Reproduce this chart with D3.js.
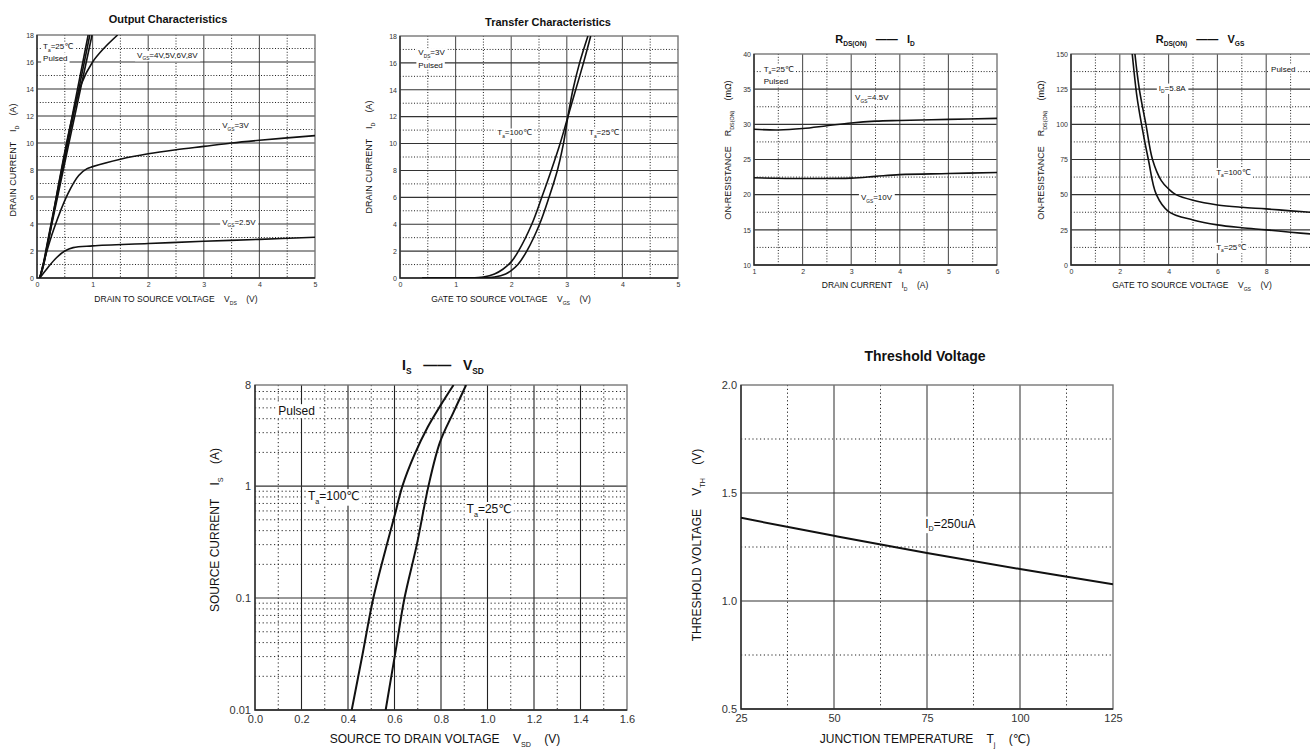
<!DOCTYPE html>
<html>
<head>
<meta charset="utf-8">
<script src="https://cdn.jsdelivr.net/npm/d3@7/dist/d3.min.js"></script>
<style>
body { margin: 0; background: #fff; }
text { font-family: "Liberation Sans", Arial, "DejaVu Sans", sans-serif; fill: #111; white-space: pre; }
</style>
</head>
<body>
<script>
// ---- Output characteristics (VDS, ID)
var outVgs8 = [[0.05, 0], [0.12, 1.2], [0.2, 2.9], [0.92, 18]];
var outVgs6 = [[0.05, 0], [0.12, 1.1], [0.2, 2.8], [0.95, 18]];
var outVgs5 = [[0.05, 0], [0.12, 1.0], [0.2, 2.7], [0.99, 18]];
var outVgs4 = [[0.05, 0], [0.12, 1.0], [0.2, 2.6], [0.4, 7.2], [0.6, 11.3], [0.8, 14.4], [1.0, 16.0], [1.2, 17.0], [1.45, 18]];
var outVgs3 = [[0.05, 0], [0.15, 1.6], [0.3, 3.6], [0.55, 6.2], [0.75, 7.6], [0.9, 8.1], [1.0, 8.25], [1.5, 8.8], [2.0, 9.2], [2.5, 9.5], [3.0, 9.75], [3.5, 10.0], [4.0, 10.2], [5.0, 10.55]];
var outVgs25 = [[0.05, 0], [0.2, 0.8], [0.35, 1.5], [0.5, 2.0], [0.65, 2.25], [1.0, 2.38], [2.0, 2.55], [3.0, 2.72], [4.0, 2.86], [5.0, 3.02]];

// ---- Transfer characteristics (VGS, ID)
var trans100 = [[0.4, 0], [1.2, 0.01], [1.5, 0.08], [1.7, 0.3], [1.85, 0.65], [2.0, 1.2], [2.13, 2], [2.37, 4], [2.55, 6], [2.72, 8], [2.88, 10], [3.02, 12], [3.16, 14], [3.3, 16], [3.43, 18]];
var trans25 = [[0.4, 0], [1.4, 0.01], [1.7, 0.08], [1.9, 0.3], [2.0, 0.55], [2.12, 1.0], [2.28, 2], [2.51, 4], [2.68, 6], [2.83, 8], [2.94, 10], [3.02, 12], [3.11, 14], [3.23, 16], [3.38, 18]];

// ---- RDS(ON) vs ID (ID, mOhm)
var rdsId45 = [[1, 29.3], [1.5, 29.2], [2, 29.4], [2.5, 29.8], [3, 30.2], [3.5, 30.45], [4, 30.55], [5, 30.7], [6, 30.85]];
var rdsId10 = [[1, 22.4], [2, 22.3], [3, 22.35], [3.5, 22.6], [4, 22.85], [5, 23.0], [6, 23.15]];

// ---- RDS(ON) vs VGS (VGS, mOhm)
var rdsVgs25 = [[2.51, 150], [2.7, 120], [2.89, 100], [3.17, 75], [3.5, 50], [4, 38], [5, 32], [6, 28.5], [7, 26.5], [8, 25], [9, 23.3], [10, 21.8]];
var rdsVgs100 = [[2.62, 150], [2.8, 125], [3.07, 100], [3.34, 75], [3.7, 60], [4, 54], [4.3, 50], [5, 46], [6, 42.7], [7, 41], [8, 39.9], [9, 38.5], [10, 37.3]];

// ---- IS vs VSD (VSD, IS)
var is100 = [[0.416, 0.01], [0.462, 0.031], [0.509, 0.1], [0.567, 0.3], [0.603, 0.57], [0.634, 1], [0.685, 1.89], [0.743, 3.37], [0.798, 5.26], [0.854, 8]];
var is25 = [[0.562, 0.01], [0.609, 0.038], [0.643, 0.1], [0.696, 0.3], [0.746, 1], [0.796, 2.48], [0.854, 4.58], [0.908, 8]];

// ---- Threshold voltage (Tj, VTH)
var vth = [[25, 1.385], [50, 1.302], [75, 1.222], [100, 1.148], [125, 1.078]];

// ---- tick values
var ticks0to5 = [0, 1, 2, 3, 4, 5];
var ticks0to18 = [0, 2, 4, 6, 8, 10, 12, 14, 16, 18];
var ticksId = [1, 2, 3, 4, 5, 6];
var ticksRdsId = [10, 15, 20, 25, 30, 35, 40];
var ticksVgs = [0, 2, 4, 6, 8];
var ticksRdsVgs = [0, 25, 50, 75, 100, 125, 150];
var ticksVsd = [0, 0.2, 0.4, 0.6, 0.8, 1.0, 1.2, 1.4, 1.6];
var ticksIs = [0.01, 0.1, 1, 8];
var ticksTj = [25, 50, 75, 100, 125];
var ticksVth = [0.5, 1.0, 1.5, 2.0];

var svg = d3.select("body").append("svg")
	.attr("width", 1310)
	.attr("height", 749);

// text with V_{GS} style subscripts
function rich(g, str, x, y, size, anchor, rotate, weight) {
	var t = g.append("text")
		.attr("x", x).attr("y", y)
		.attr("text-anchor", anchor || "start")
		.style("font-size", size + "px")
		.style("font-weight", weight || "normal");
	if (rotate) t.attr("transform", "rotate(-90," + x + "," + y + ")");
	var shift = size * 0.3, inSub = false;
	str.split(/(_\{[^}]*\})/).forEach(function(p) {
		if (!p) return;
		if (p.charAt(0) == "_") {
			t.append("tspan").text(p.slice(2, -1))
				.attr("dy", shift)
				.style("font-size", (size * 0.6) + "px");
			inSub = true;
		} else {
			var s = t.append("tspan").text(p);
			if (inSub) s.attr("dy", -shift);
			inSub = false;
		}
	});
	return t;
}

function Panel(cfg) {
	this.cfg = cfg;
	this.counter = Panel.counter++;
	this.x = (cfg.xLog ? d3.scaleLog() : d3.scaleLinear()).domain(cfg.xDomain).range([cfg.left, cfg.right]);
	this.y = (cfg.yLog ? d3.scaleLog() : d3.scaleLinear()).domain(cfg.yDomain).range([cfg.bottom, cfg.top]);
	this.g = svg.append("g");
	this.g.append("clipPath")
		.attr("id", "clip" + this.counter)
		.append("rect")
		.attr("x", cfg.left).attr("y", cfg.top)
		.attr("width", cfg.right - cfg.left).attr("height", cfg.bottom - cfg.top);
	this.gridGroup = this.g.append("g");
	this.lineGroup = this.g.append("g").attr("clip-path", "url(#clip" + this.counter + ")");
	this.noteGroup = this.g.append("g");
}
Panel.counter = 0;

Panel.prototype.grid = function() {
	var c = this.cfg, x = this.x, y = this.y, g = this.gridGroup;
	var dash = c.big ? "1.2,2.6" : "1,1.8";
	g.selectAll(".xmin").data(c.xMinor).enter().append("line")
		.attr("x1", x).attr("x2", x).attr("y1", c.top).attr("y2", c.bottom)
		.attr("stroke", "#222").attr("stroke-width", 1).attr("stroke-dasharray", dash);
	g.selectAll(".ymin").data(c.yMinor).enter().append("line")
		.attr("y1", y).attr("y2", y).attr("x1", c.left).attr("x2", c.right)
		.attr("stroke", "#222").attr("stroke-width", 1).attr("stroke-dasharray", dash);
	g.selectAll(".xmaj").data(c.xMajor).enter().append("line")
		.attr("x1", x).attr("x2", x).attr("y1", c.top).attr("y2", c.bottom)
		.attr("stroke", c.xMajorColor || "#555").attr("stroke-width", c.xMajorWidth || 1.1);
	g.selectAll(".ymaj").data(c.yMajor).enter().append("line")
		.attr("y1", y).attr("y2", y).attr("x1", c.left).attr("x2", c.right)
		.attr("stroke", "#333").attr("stroke-width", 1.1);
	g.append("rect")
		.attr("x", c.left).attr("y", c.top)
		.attr("width", c.right - c.left).attr("height", c.bottom - c.top)
		.attr("fill", "none").attr("stroke", "#777").attr("stroke-width", 1.4);
	g.append("path")
		.attr("d", "M" + c.left + "," + c.top + "V" + c.bottom + "H" + c.right)
		.attr("fill", "none").attr("stroke", "#222").attr("stroke-width", 1.3);
};

Panel.prototype.axes = function() {
	var c = this.cfg, fs = c.big ? 11 : 7;
	var ax = this.g.append("g")
		.attr("transform", "translate(0," + c.bottom + ")")
		.call(d3.axisBottom(this.x).tickValues(c.xTicks).tickSize(0).tickPadding(c.big ? 5 : 4).tickFormat(c.xFmt || d3.format("d")));
	var ay = this.g.append("g")
		.attr("transform", "translate(" + c.left + ",0)")
		.call(d3.axisLeft(this.y).tickValues(c.yTicks).tickSize(0).tickPadding(c.big ? 4 : 3).tickFormat(c.yFmt || d3.format("d")));
	[ax, ay].forEach(function(a) {
		a.select(".domain").remove();
		a.selectAll("text").style("font-size", fs + "px").style("fill", "#333");
	});
	var ls = c.big ? 12 : 8.5;
	rich(this.g, c.xLabel, c.xLabelPos[0], c.xLabelPos[1], ls, "middle");
	rich(this.g, c.yLabel, c.yLabelPos[0], c.yLabelPos[1], c.big ? 12 : 9, "middle", true);
	rich(this.g, c.title, c.titlePos[0], c.titlePos[1], c.big ? 14 : 11, "middle", false, "bold");
};

Panel.prototype.curve = function(data) {
	var x = this.x, y = this.y;
	var line = d3.line()
		.x(function(d) { return x(d[0]); })
		.y(function(d) { return y(d[1]); })
		.curve(d3.curveCatmullRom.alpha(0.5));
	this.lineGroup.append("path")
		.datum(data)
		.attr("d", line)
		.attr("fill", "none")
		.attr("stroke", "#111")
		.attr("stroke-width", this.cfg.big ? 2 : 1.6);
};

Panel.prototype.note = function(str, vx, vy) {
	var size = this.cfg.big ? 12 : 8;
	var t = rich(this.noteGroup, str, this.x(vx), this.y(vy), size, "start");
	var b = t.node().getBBox();
	this.noteGroup.insert("rect", function() { return t.node(); })
		.attr("x", b.x - 2).attr("y", b.y).attr("width", b.width + 4).attr("height", b.height)
		.attr("fill", "#fff");
};

// ---- panels
var p1 = new Panel({
	left: 37, right: 315, top: 35, bottom: 278,
	xDomain: [0, 5], yDomain: [0, 18],
	xMajor: [1, 2, 3, 4], xMinor: [0.5, 1.5, 2.5, 3.5, 4.5],
	yMajor: [2, 4, 6, 8, 10, 12, 14, 16], yMinor: [1, 3, 5, 7, 9, 11, 13, 15, 17],
	xTicks: ticks0to5, yTicks: ticks0to18,
	xLabel: "DRAIN TO SOURCE VOLTAGE    V_{DS}    (V)", xLabelPos: [176, 302],
	yLabel: "DRAIN CURRENT    I_{D}    (A)", yLabelPos: [16, 160],
	title: "Output Characteristics", titlePos: [168, 23]
});
p1.grid(); p1.axes();
[outVgs8, outVgs6, outVgs5, outVgs4, outVgs3, outVgs25].forEach(function(s) { p1.curve(s); });
p1.note("T_{a}=25℃", 0.11, 16.95);
p1.note("Pulsed", 0.11, 16.05);
p1.note("V_{GS}=4V,5V,6V,8V", 1.8, 16.3);
p1.note("V_{GS}=3V", 3.33, 11.1);
p1.note("V_{GS}=2.5V", 3.33, 3.95);

var p2 = new Panel({
	left: 400, right: 678, top: 36, bottom: 278,
	xDomain: [0, 5], yDomain: [0, 18],
	xMajor: [1, 2, 3, 4], xMinor: [0.5, 1.5, 2.5, 3.5, 4.5],
	yMajor: [2, 4, 6, 8, 10, 12, 14, 16], yMinor: [1, 3, 5, 7, 9, 11, 13, 15, 17],
	xTicks: ticks0to5, yTicks: ticks0to18,
	xLabel: "GATE TO SOURCE VOLTAGE    V_{GS}    (V)", xLabelPos: [511, 302],
	yLabel: "DRAIN CURRENT    I_{D}    (A)", yLabelPos: [372, 157],
	title: "Transfer Characteristics", titlePos: [548, 26]
});
p2.grid(); p2.axes();
p2.curve(trans100); p2.curve(trans25);
p2.note("V_{DS}=3V", 0.33, 16.55);
p2.note("Pulsed", 0.33, 15.65);
p2.note("T_{a}=100℃", 1.75, 10.6);
p2.note("T_{a}=25℃", 3.4, 10.6);

var p3 = new Panel({
	left: 754, right: 997, top: 54, bottom: 265,
	xDomain: [1, 6], yDomain: [10, 40],
	xMajor: [2, 3, 4, 5], xMinor: [1.5, 2.5, 3.5, 4.5, 5.5],
	yMajor: [15, 20, 25, 30, 35], yMinor: [12.5, 17.5, 22.5, 27.5, 32.5, 37.5],
	xTicks: ticksId, yTicks: ticksRdsId,
	xLabel: "DRAIN CURRENT    I_{D}    (A)", xLabelPos: [875, 288],
	yLabel: "ON-RESISTANCE    R_{DS(ON)}    (mΩ)", yLabelPos: [731, 150],
	title: "R_{DS(ON)}   ——   I_{D}", titlePos: [875, 43]
});
p3.grid(); p3.axes();
p3.curve(rdsId45); p3.curve(rdsId10);
p3.note("T_{a}=25℃", 1.2, 37.5);
p3.note("Pulsed", 1.2, 35.8);
p3.note("V_{GS}=4.5V", 3.08, 33.4);
p3.note("V_{GS}=10V", 3.2, 19.2);

var p4 = new Panel({
	left: 1071, right: 1315, top: 54, bottom: 265,
	xDomain: [0, 10], yDomain: [0, 150],
	xMajor: [2, 4, 6, 8], xMinor: [1, 3, 5, 7, 9],
	yMajor: [25, 50, 75, 100, 125], yMinor: [12.5, 37.5, 62.5, 87.5, 112.5, 137.5],
	xTicks: ticksVgs, yTicks: ticksRdsVgs,
	xLabel: "GATE TO SOURCE VOLTAGE    V_{GS}    (V)", xLabelPos: [1192, 288],
	yLabel: "ON-RESISTANCE    R_{DS(ON)}    (mΩ)", yLabelPos: [1044, 150],
	title: "R_{DS(ON)}   ——   V_{GS}", titlePos: [1200, 43]
});
p4.grid(); p4.axes();
p4.curve(rdsVgs25); p4.curve(rdsVgs100);
p4.note("I_{D}=5.8A", 3.6, 124);
p4.note("Pulsed", 8.2, 137.5);
p4.note("T_{a}=100℃", 5.95, 64);
p4.note("T_{a}=25℃", 5.95, 10.8);

var p5 = new Panel({
	big: true,
	left: 255, right: 627, top: 385, bottom: 710,
	xDomain: [0, 1.6], yDomain: [0.01, 8], yLog: true,
	xMajor: [0.2, 0.4, 0.6, 0.8, 1.0, 1.2, 1.4], xMinor: [0.1, 0.3, 0.5, 0.7, 0.9, 1.1, 1.3, 1.5],
	xMajorColor: "#222",
	yMajor: [0.1, 1],
	yMinor: [0.02, 0.03, 0.04, 0.05, 0.06, 0.07, 0.08, 0.09, 0.2, 0.3, 0.4, 0.5, 0.6, 0.7, 0.8, 0.9, 2, 3, 4, 5, 6, 7],
	xTicks: ticksVsd, yTicks: ticksIs,
	xFmt: d3.format(".1f"), yFmt: function(d) { return String(d); },
	xLabel: "SOURCE TO DRAIN VOLTAGE    V_{SD}    (V)", xLabelPos: [445, 743],
	yLabel: "SOURCE CURRENT    I_{S}    (A)", yLabelPos: [219, 530],
	title: "I_{S}   ——   V_{SD}", titlePos: [443, 370]
});
p5.grid(); p5.axes();
p5.curve(is100); p5.curve(is25);
p5.note("Pulsed", 0.1, 4.3);
p5.note("T_{a}=100℃", 0.228, 0.75);
p5.note("T_{a}=25℃", 0.91, 0.575);

var p6 = new Panel({
	big: true,
	left: 741, right: 1113, top: 385, bottom: 709,
	xDomain: [25, 125], yDomain: [0.5, 2.0],
	xMajor: [50, 75, 100], xMinor: [37.5, 62.5, 87.5, 112.5],
	xMajorColor: "#8a8a8a", xMajorWidth: 1.8,
	yMajor: [1.0, 1.5], yMinor: [0.75, 1.25, 1.75],
	xTicks: ticksTj, yTicks: ticksVth,
	xFmt: d3.format("d"), yFmt: d3.format(".1f"),
	xLabel: "JUNCTION TEMPERATURE    T_{j}    (℃)", xLabelPos: [925, 743],
	yLabel: "THRESHOLD VOLTAGE    V_{TH}    (V)", yLabelPos: [701, 545],
	title: "Threshold Voltage", titlePos: [925, 361]
});
p6.grid(); p6.axes();
p6.curve(vth);
p6.note("I_{D}=250uA", 74.5, 1.34);
</script>
</body>
</html>
